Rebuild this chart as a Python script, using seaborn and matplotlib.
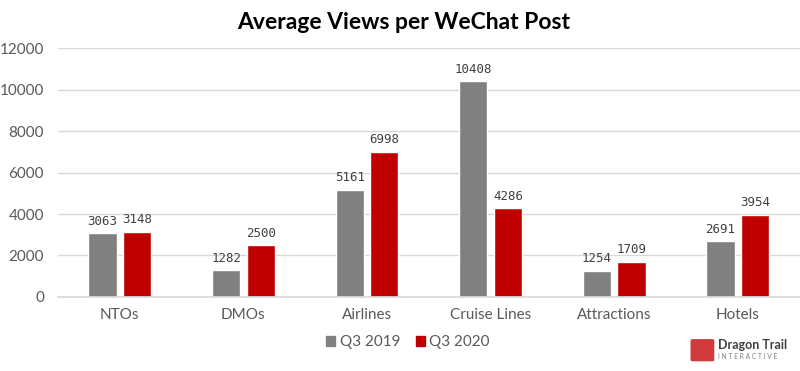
import numpy as np
import pandas as pd
import matplotlib
matplotlib.use("Agg")
import matplotlib.pyplot as plt
import seaborn as sns
from matplotlib.patches import FancyBboxPatch

# Data
categories = ["NTOs", "DMOs", "Airlines", "Cruise Lines", "Attractions", "Hotels"]
q3_2019 = [3063, 1282, 5161, 10408, 1254, 2691]
q3_2020 = [3148, 2500, 6998, 4286, 1709, 3954]
series = ["Q3 2019", "Q3 2020"]
colors = ["#808080", "#C00000"]

df = pd.DataFrame({
    "Category": categories * 2,
    "Period": [series[0]] * len(categories) + [series[1]] * len(categories),
    "Views": q3_2019 + q3_2020,
})

sns.set_theme(style="white")
plt.rcParams["font.family"] = ["Lato", "DejaVu Sans"]

fig = plt.figure(figsize=(8, 3.71), dpi=100)
ax = fig.add_axes([0.0725, 0.1995, 0.927, 0.671])

sns.barplot(data=df, x="Category", y="Views", hue="Period", palette=colors,
            width=0.56, gap=0.18, ax=ax, legend=False, saturation=1)

for cont in ax.containers:
    ax.bar_label(cont, fmt="%d", padding=4, fontsize=9,
                 family="DejaVu Sans Mono", color="#404040")

ax.set_ylim(0, 12000)
ax.set_yticks(range(0, 12001, 2000))
ax.yaxis.grid(True, color="#D9D9D9", linewidth=1)
ax.set_axisbelow(True)
for s in ["top", "right", "left"]:
    ax.spines[s].set_visible(False)
ax.spines["bottom"].set_color("#D9D9D9")
ax.tick_params(axis="both", length=0, labelsize=11, colors="#595959", pad=8)
ax.tick_params(axis="y", pad=10)
ax.set_xlabel("")
ax.set_ylabel("")

fig.text(0.505, 0.94, "Average Views per WeChat Post", ha="center", va="center",
         fontsize=16.5, fontweight="bold", color="black")

# legend
handles = [plt.Rectangle((0, 0), 1, 1, color=c) for c in colors]
fig.legend(handles, series, loc="center", bbox_to_anchor=(0.51, 0.078), ncol=2,
           frameon=False, fontsize=11, handlelength=0.6, handleheight=0.6,
           columnspacing=1.0, handletextpad=0.3, labelcolor="#595959")

# logo
logo = FancyBboxPatch((0.866, 0.03), 0.024, 0.052, boxstyle="round,pad=0.002",
                      transform=fig.transFigure, color="#D03A3A")
fig.patches.append(logo)
fig.text(0.897, 0.07, "Dragon Trail", fontsize=9, fontweight="bold",
         color="#404040", va="center", ha="left")
fig.text(0.897, 0.04, "I N T E R A C T I V E", fontsize=4.8,
         color="#808080", va="center", ha="left")

fig.savefig("out.png", dpi=100)
